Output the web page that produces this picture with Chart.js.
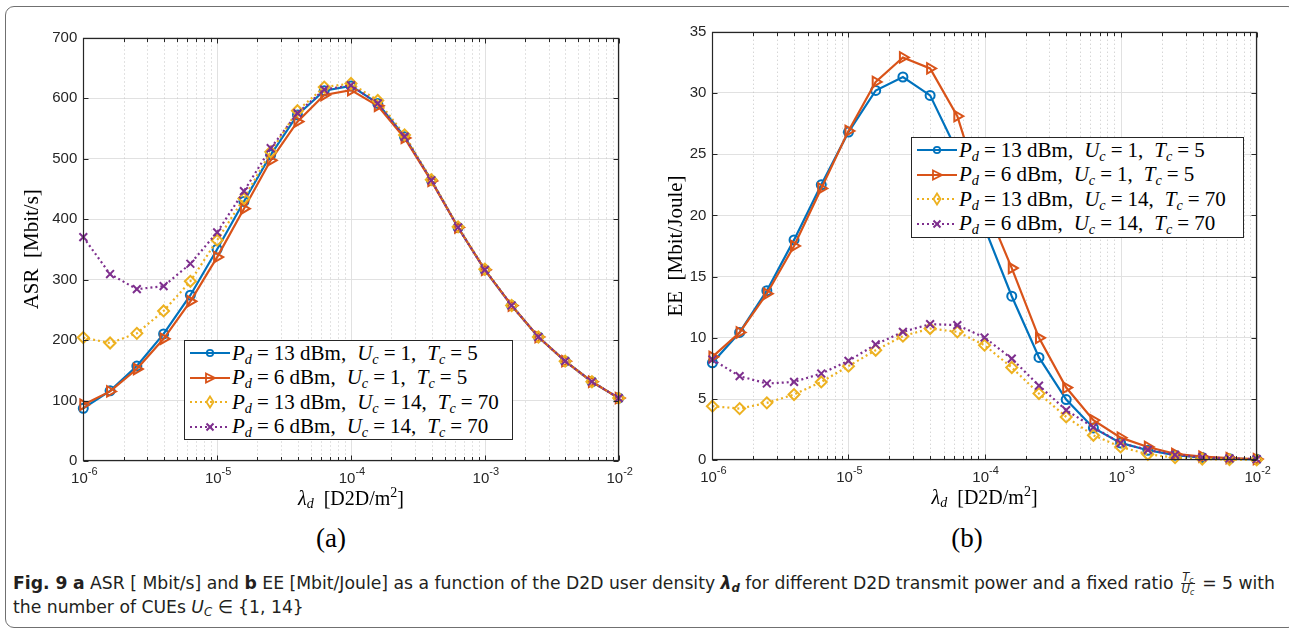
<!DOCTYPE html>
<html>
<head>
<meta charset="utf-8">
<script src="https://cdn.jsdelivr.net/npm/chart.js@4.4.1/dist/chart.umd.min.js"></script>
<style>
  html, body { margin: 0; padding: 0; background: #fff; }
  body { width: 1289px; height: 632px; position: relative; overflow: hidden; }
  #frame { position: absolute; left: 5px; top: 6px; width: 1292px; height: 622px;
           border: 1.5px solid #707070; border-radius: 9px; box-sizing: border-box; }
  canvas { position: absolute; top: 0; }
  #cA { left: 0; }
  #cB { left: 640px; }
  .legend { position: absolute; background: #fff; border: 1px solid #262626; box-sizing: border-box;
            font-family: "Liberation Serif", serif; font-size: 21px; color: #000; padding-top: 0; }
  .legend .row { height: 24.5px; display: flex; align-items: center; white-space: nowrap; }
  .legend svg { flex: none; margin-left: 5px; margin-right: 2px; }
  .legend sub, .cap sub { font-size: 0.68em; vertical-align: -0.28em; line-height: 0; }
  .legend .eq { padding: 0 5px; }
  .legend .gap { display: inline-block; width: 11px; }
  .panel { position: absolute; top: 523px; width: 100px; text-align: center; line-height: 30px;
           font-family: "Liberation Serif", serif; font-size: 27px; color: #000; }
  .cap { position: absolute; left: 13px; font-family: "Liberation Sans Narrow", "DejaVu Sans Condensed", "Liberation Sans", sans-serif;
         font-size: 18px; line-height: 20px; color: #231f20; white-space: nowrap; transform-origin: 0 0; }
  .frac { display: inline-block; vertical-align: middle; text-align: center; font-size: 12px; line-height: 11px; margin: 0 2px; }
  .frac span { display: block; font-style: italic; }
  .frac span.num { border-bottom: 1px solid #231f20; padding: 0 1px; }
</style>
</head>
<body>
<div id="frame"></div>
<canvas id="cA" width="640" height="520"></canvas>
<canvas id="cB" width="649" height="520"></canvas>

<div class="legend" id="legA" style="left:184px; top:340px; width:329px; height:100px;"></div>
<div class="legend" id="legB" style="left:911px; top:137px; width:333px; height:101px;"></div>

<div class="panel" style="left:281px;">(a)</div>
<div class="panel" style="left:917px;">(b)</div>

<div class="cap" id="cap1" style="top:572px;"><b>Fig. 9</b> <b>a</b> ASR [ Mbit/s] and <b>b</b> EE [Mbit/Joule] as a function of the D2D user density <b><i>λ</i><sub><i>d</i></sub></b> for different D2D transmit power and a fixed ratio <span class="frac"><span class="num">T<sub>c</sub></span><span>U<sub>c</sub></span></span> = 5 with</div>
<div class="cap" id="cap2" style="top:597px;">the number of CUEs <i>U</i><sub><i>C</i></sub> ∈ {1, 14}</div>

<script>
// D2D user density (D2D/m^2), five points per decade
const lambdaD = [1e-6, 1.585e-6, 2.512e-6, 3.981e-6, 6.310e-6,
                 1e-5, 1.585e-5, 2.512e-5, 3.981e-5, 6.310e-5,
                 1e-4, 1.585e-4, 2.512e-4, 3.981e-4, 6.310e-4,
                 1e-3, 1.585e-3, 2.512e-3, 3.981e-3, 6.310e-3, 1e-2];

// (a) ASR [Mbit/s]
const asrP13U1  = [87, 116, 157, 210, 274, 350, 429, 506, 572, 612, 620, 591, 536, 464, 386, 316, 257, 205, 165, 131, 104];
const asrP6U1   = [93, 115, 152, 202, 264, 337, 417, 497, 561, 605, 613, 587, 534, 463, 386, 316, 257, 205, 165, 131, 104];
const asrP13U14 = [204, 195, 211, 248, 297, 365, 434, 511, 579, 618, 624, 596, 539, 465, 387, 317, 257, 205, 165, 131, 104];
const asrP6U14  = [370, 309, 284, 289, 326, 378, 446, 517, 575, 614, 621, 591, 536, 464, 386, 316, 257, 205, 165, 131, 104];

// (b) EE [Mbit/Joule]
const eeP13U1  = [7.96, 10.44, 13.85, 18.0, 22.5, 26.8, 30.2, 31.3, 29.8, 25.2, 19.0, 13.4, 8.4, 4.96, 2.64, 1.42, 0.82, 0.42, 0.22, 0.13, 0.08];
const eeP6U1   = [8.45, 10.44, 13.6, 17.5, 22.2, 26.9, 30.9, 32.9, 32.0, 28.1, 21.0, 15.7, 10.0, 5.94, 3.27, 1.85, 1.09, 0.52, 0.30, 0.18, 0.10];
const eeP13U14 = [4.42, 4.22, 4.69, 5.37, 6.40, 7.69, 8.99, 10.14, 10.76, 10.49, 9.40, 7.58, 5.45, 3.54, 2.04, 1.09, 0.49, 0.22, 0.10, 0.06, 0.04];
const eeP6U14  = [8.23, 6.87, 6.27, 6.40, 7.09, 8.12, 9.46, 10.49, 11.12, 11.04, 10.03, 8.30, 6.10, 4.09, 2.70, 1.40, 0.85, 0.45, 0.25, 0.15, 0.09];

// x-axis decades and their exponent labels
const xDecades = [1e-6, 1e-5, 1e-4, 1e-3, 1e-2];
const xExponents = ['-6', '-5', '-4', '-3', '-2'];

// legend entries
const EQ = '<span class="eq">=</span>';
const GAP = ',<span class="gap"></span>';
const seriesNames = [
  `<i>P</i><sub><i>d</i></sub>${EQ}13 dBm${GAP}<i>U</i><sub><i>c</i></sub>${EQ}1${GAP}<i>T</i><sub><i>c</i></sub>${EQ}5`,
  `<i>P</i><sub><i>d</i></sub>${EQ}6 dBm${GAP}<i>U</i><sub><i>c</i></sub>${EQ}1${GAP}<i>T</i><sub><i>c</i></sub>${EQ}5`,
  `<i>P</i><sub><i>d</i></sub>${EQ}13 dBm${GAP}<i>U</i><sub><i>c</i></sub>${EQ}14${GAP}<i>T</i><sub><i>c</i></sub>${EQ}70`,
  `<i>P</i><sub><i>d</i></sub>${EQ}6 dBm${GAP}<i>U</i><sub><i>c</i></sub>${EQ}14${GAP}<i>T</i><sub><i>c</i></sub>${EQ}70`
];

const COLORS = ['#0072BD', '#D95319', '#EDB120', '#7E2F8E'];
const AXIS = '#262626';
const TICK_FONT = '15px "Liberation Sans", Arial, sans-serif';

const styles = [
  { pointStyle: 'circle',   pointRadius: 4.5, rotation: 0,  dash: [] },
  { pointStyle: 'triangle', pointRadius: 6,   rotation: 90, dash: [] },
  { pointStyle: 'rectRot',  pointRadius: 5.5, rotation: 0,  dash: [2, 3] },
  { pointStyle: 'crossRot', pointRadius: 5.5, rotation: 0,  dash: [2, 3] }
];

function makeDataset(values, i) {
  const s = styles[i];
  return {
    data: lambdaD.map((x, k) => ({ x: x, y: values[k] })),
    borderColor: COLORS[i],
    borderWidth: 2.2,
    borderDash: s.dash,
    borderCapStyle: 'butt',
    pointStyle: s.pointStyle,
    pointRadius: s.pointRadius,
    pointRotation: s.rotation,
    pointBorderWidth: 2,
    pointBorderColor: COLORS[i],
    pointBackgroundColor: 'rgba(0,0,0,0)',
    tension: 0,
    fill: false,
    clip: false,
    order: 4 - i
  };
}

// draws a run of text pieces (with raised/lowered parts) centred on cx
function drawRuns(ctx, runs, cx, baseline) {
  let total = 0;
  runs.forEach(r => { ctx.font = r.font; r.w = ctx.measureText(r.t).width; total += r.w; });
  let x = cx - total / 2;
  ctx.textAlign = 'left';
  ctx.textBaseline = 'alphabetic';
  runs.forEach(r => { ctx.font = r.font; ctx.fillText(r.t, x, baseline + (r.dy || 0)); x += r.w; });
}

// MATLAB-style axes box, log grid, inward ticks and x labels
const axesPlugin = {
  id: 'axesBox',
  beforeDatasetsDraw(chart) {
    const { ctx, chartArea: a, scales: { x } } = chart;
    ctx.save();
    ctx.lineWidth = 1;
    // minor grid (dotted)
    ctx.strokeStyle = '#c4c4c4';
    ctx.setLineDash([1, 3]);
    for (let d = 0; d < xDecades.length - 1; d++) {
      for (let m = 2; m <= 9; m++) {
        const px = Math.round(x.getPixelForValue(xDecades[d] * m)) + 0.5;
        ctx.beginPath(); ctx.moveTo(px, a.top); ctx.lineTo(px, a.bottom); ctx.stroke();
      }
    }
    // major grid (solid)
    ctx.setLineDash([]);
    ctx.strokeStyle = '#e1e1e1';
    xDecades.forEach(v => {
      const px = Math.round(x.getPixelForValue(v)) + 0.5;
      ctx.beginPath(); ctx.moveTo(px, a.top); ctx.lineTo(px, a.bottom); ctx.stroke();
    });
    ctx.restore();
  },
  afterDraw(chart) {
    const { ctx, chartArea: a, scales: { x, y } } = chart;
    ctx.save();
    ctx.strokeStyle = AXIS;
    ctx.lineWidth = 1;
    ctx.setLineDash([]);
    const L = Math.round(a.left) + 0.5, R = Math.round(a.right) - 0.5;
    const T = Math.round(a.top) + 0.5, B = Math.round(a.bottom) - 0.5;
    ctx.beginPath();
    // x ticks (top and bottom, inward)
    for (let d = 0; d < xDecades.length; d++) {
      const px = Math.round(x.getPixelForValue(xDecades[d])) + 0.5;
      ctx.moveTo(px, B); ctx.lineTo(px, B - 5);
      ctx.moveTo(px, T); ctx.lineTo(px, T + 5);
      if (d < xDecades.length - 1) {
        for (let m = 2; m <= 9; m++) {
          const qx = Math.round(x.getPixelForValue(xDecades[d] * m)) + 0.5;
          ctx.moveTo(qx, B); ctx.lineTo(qx, B - 3.5);
          ctx.moveTo(qx, T); ctx.lineTo(qx, T + 3.5);
        }
      }
    }
    // y ticks (left and right, inward)
    y.ticks.forEach(t => {
      const py = Math.round(y.getPixelForValue(t.value)) + 0.5;
      ctx.moveTo(L, py); ctx.lineTo(L + 5, py);
      ctx.moveTo(R, py); ctx.lineTo(R - 5, py);
    });
    ctx.stroke();
    ctx.lineWidth = 1.2;
    ctx.strokeRect(L, T, R - L, B - T);

    // x tick labels 10^n
    ctx.fillStyle = AXIS;
    xDecades.forEach((v, i) => {
      drawRuns(ctx, [
        { t: '10', font: TICK_FONT },
        { t: xExponents[i], font: '11px "Liberation Sans", Arial, sans-serif', dy: -8 }
      ], x.getPixelForValue(v) + 1, a.bottom + 21.5);
    });

    // x axis title: lambda_d [D2D/m^2]
    ctx.fillStyle = '#000';
    const serif = '"Liberation Serif", serif';
    drawRuns(ctx, [
      { t: 'λ', font: 'italic 20px ' + serif },
      { t: 'd', font: 'italic 14px ' + serif, dy: 3 },
      { t: '  [D2D/m', font: '20px ' + serif },
      { t: '2', font: '14px ' + serif, dy: -8 },
      { t: ']', font: '20px ' + serif }
    ], (a.left + a.right) / 2, a.bottom + 44);
    ctx.restore();
  }
};

function makeChart(canvasId, sets, yMax, yStep, yTitle, geom) {
  return new Chart(document.getElementById(canvasId), {
    type: 'line',
    data: { datasets: sets.map(makeDataset) },
    options: {
      responsive: false,
      animation: false,
      events: [],
      layout: { padding: { top: geom.top, right: geom.right, left: 0, bottom: 0 } },
      plugins: { legend: { display: false }, tooltip: { enabled: false } },
      scales: {
        x: {
          type: 'logarithmic',
          min: 1e-6, max: 1e-2,
          grid: { display: false },
          border: { display: false },
          ticks: { display: false },
          afterBuildTicks: s => { s.ticks = xDecades.map(v => ({ value: v })); },
          afterFit: s => { s.height = geom.xHeight; }
        },
        y: {
          min: 0, max: yMax,
          ticks: { stepSize: yStep, color: AXIS, padding: 6,
                   font: { family: '"Liberation Sans", Arial, sans-serif', size: 15 } },
          grid: { color: '#e1e1e1', lineWidth: 1, drawTicks: false },
          border: { display: false },
          title: { display: true, text: yTitle, color: '#000', padding: { top: geom.titlePad, bottom: 0 },
                   font: { family: '"Liberation Serif", serif', size: 21 } },
          afterFit: s => { s.width = geom.yWidth; }
        }
      }
    },
    plugins: [axesPlugin]
  });
}

makeChart('cA', [asrP13U1, asrP6U1, asrP13U14, asrP6U14], 700, 100, 'ASR  [Mbit/s]',
          { top: 37.5, right: 21.3, xHeight: 59, yWidth: 83.3, titlePad: 20 });
makeChart('cB', [eeP13U1, eeP6U1, eeP13U14, eeP6U14], 35, 5, 'EE  [Mbit/Joule]',
          { top: 31.7, right: 32.3, xHeight: 59.7, yWidth: 72.4, titlePad: 24 });

// legend boxes
function swatch(i) {
  const c = COLORS[i];
  const dash = styles[i].dash.length ? ' stroke-dasharray="2 3"' : '';
  let mk = '';
  if (i === 0) mk = `<circle cx="20" cy="10" r="3.2" fill="none" stroke="${c}" stroke-width="1.8"/>`;
  if (i === 1) mk = `<polygon points="16,5.5 25,10 16,14.5" fill="none" stroke="${c}" stroke-width="1.8"/>`;
  if (i === 2) mk = `<polygon points="20,4.5 23.5,10 20,15.5 16.5,10" fill="none" stroke="${c}" stroke-width="1.8"/>`;
  if (i === 3) mk = `<path d="M16.5,6.5 L23.5,13.5 M23.5,6.5 L16.5,13.5" stroke="${c}" stroke-width="2"/>`;
  return `<svg width="40" height="20" viewBox="0 0 40 20"><line x1="0" y1="10" x2="40" y2="10" stroke="${c}" stroke-width="2"${dash}/>${mk}</svg>`;
}
['legA', 'legB'].forEach(id => {
  document.getElementById(id).innerHTML = seriesNames.map((n, i) =>
    `<div class="row">${swatch(i)}<span>${n}</span></div>`).join('');
});

// caption squeezed to the frame width
const cap1 = document.getElementById('cap1');
const k = 1262 / cap1.getBoundingClientRect().width;
cap1.style.transform = `scaleX(${k})`;
document.getElementById('cap2').style.transform = `scaleX(${k})`;
</script>
</body>
</html>
